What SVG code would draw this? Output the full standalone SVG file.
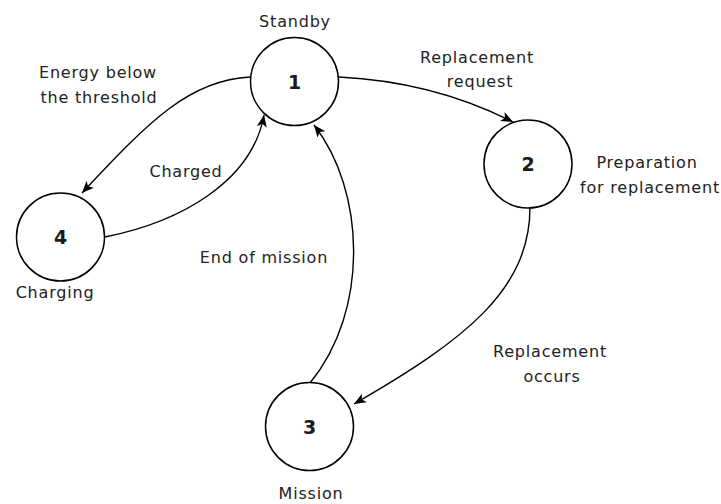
<svg xmlns="http://www.w3.org/2000/svg" width="721" height="504" viewBox="0 0 721 504">
<style>
.node{fill:#fff;stroke:#000;stroke-width:1.5}
.num{font-family:"DejaVu Sans",sans-serif;font-size:19px;font-weight:bold;fill:#1a1a1a;text-anchor:middle}
.lbl{font-family:"DejaVu Sans",sans-serif;font-size:16px;letter-spacing:0.8px;fill:#222;text-anchor:middle}
.edge{fill:none;stroke:#000;stroke-width:1.4;marker-end:url(#arr)}
</style>
<defs>
<marker id="arr" markerUnits="userSpaceOnUse" markerWidth="14" markerHeight="12" refX="12" refY="5" orient="auto">
<path d="M0,0 L12,5 L0,10 L3,5 Z" fill="#000"/>
</marker>
</defs>
<rect width="721" height="504" fill="#fff"/>
<g id="connectors">
<path class="edge" d="M250,77 C190,80 150,120 82,193"/>
<path class="edge" d="M105,237 C180,222 252,182 264,115"/>
<path class="edge" d="M339,77 C400,80 460,95 513,122"/>
<path class="edge" d="M530,207 C530,290 465,340 354,404"/>
<path class="edge" d="M310,383 C370,310 365,190 314,125"/>
</g>
<g id="edge-labels">
<text class="lbl" x="98" y="78">Energy below</text>
<text class="lbl" x="99" y="103">the threshold</text>
<text class="lbl" x="186" y="177">Charged</text>
<text class="lbl" x="477" y="63">Replacement</text>
<text class="lbl" x="480" y="87">request</text>
<text class="lbl" x="550" y="357">Replacement</text>
<text class="lbl" x="552" y="382">occurs</text>
<text class="lbl" x="264" y="263">End of mission</text>
</g>
<g id="node1">
<circle class="node" cx="294.5" cy="81.5" r="44"/>
<text class="num" x="294.5" y="88.5">1</text>
<text class="lbl" x="295" y="27">Standby</text>
</g>
<g id="node2">
<circle class="node" cx="528" cy="164" r="44"/>
<text class="num" x="528" y="171">2</text>
<text class="lbl" x="647" y="168">Preparation</text>
<text class="lbl" x="650" y="193">for replacement</text>
</g>
<g id="node3">
<circle class="node" cx="309.5" cy="426.5" r="44"/>
<text class="num" x="309.5" y="433.5">3</text>
<text class="lbl" x="311" y="499">Mission</text>
</g>
<g id="node4">
<circle class="node" cx="60.5" cy="237" r="44"/>
<text class="num" x="60.5" y="244">4</text>
<text class="lbl" x="55" y="298">Charging</text>
</g>
</svg>
